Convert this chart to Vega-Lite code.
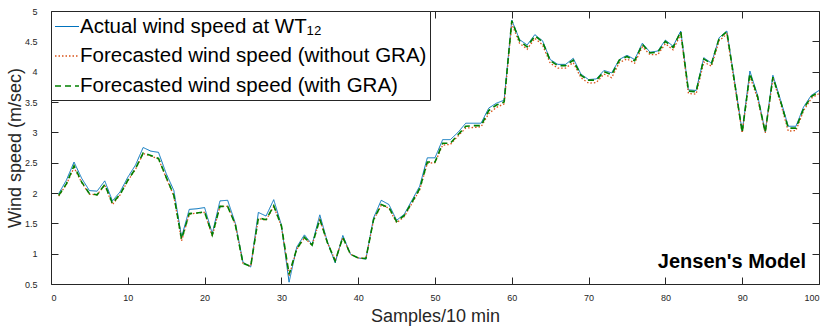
{
  "$schema": "https://vega.github.io/schema/vega-lite/v6.json",
  "width": 768,
  "height": 273,
  "autosize": {"type": "none"},
  "padding": {"left": 51, "top": 11, "right": 9, "bottom": 46},
  "background": "white",
  "config": {
    "font": "Liberation Sans",
    "view": {"stroke": "#262626", "strokeWidth": 1},
    "axis": {
      "grid": false,
      "domain": false,
      "labelColor": "#262626",
      "titleColor": "#262626",
      "labelFontSize": 9,
      "titleFontSize": 18,
      "titleFontWeight": "normal"
    },
    "legend": {
      "orient": "top-left",
      "offset": 0,
      "padding": 3,
      "strokeColor": "#262626",
      "fillColor": "white",
      "labelFontSize": 20.5,
      "labelColor": "black",
      "labelLimit": 500,
      "labelOffset": 0,
      "symbolType": "stroke",
      "symbolSize": 576,
      "rowPadding": 6,
      "title": null
    }
  },
  "datasets": {
    "wind": [
      {"s":1,"a":1.99,"wo":1.95,"w":1.96},
      {"s":2,"a":2.21,"wo":2.14,"w":2.15},
      {"s":3,"a":2.51,"wo":2.42,"w":2.45},
      {"s":4,"a":2.24,"wo":2.17,"w":2.18},
      {"s":5,"a":2.04,"wo":1.98,"w":1.99},
      {"s":6,"a":2.03,"wo":1.97,"w":1.97},
      {"s":7,"a":2.20,"wo":2.13,"w":2.14},
      {"s":8,"a":1.87,"wo":1.81,"w":1.83},
      {"s":9,"a":2.02,"wo":1.97,"w":1.98},
      {"s":10,"a":2.26,"wo":2.20,"w":2.21},
      {"s":11,"a":2.46,"wo":2.39,"w":2.40},
      {"s":12,"a":2.75,"wo":2.65,"w":2.66},
      {"s":13,"a":2.69,"wo":2.61,"w":2.62},
      {"s":14,"a":2.67,"wo":2.56,"w":2.57},
      {"s":15,"a":2.32,"wo":2.25,"w":2.26},
      {"s":16,"a":2.04,"wo":1.95,"w":1.96},
      {"s":17,"a":1.27,"wo":1.21,"w":1.24},
      {"s":18,"a":1.73,"wo":1.65,"w":1.66},
      {"s":19,"a":1.74,"wo":1.67,"w":1.67},
      {"s":20,"a":1.76,"wo":1.68,"w":1.69},
      {"s":21,"a":1.33,"wo":1.29,"w":1.31},
      {"s":22,"a":1.87,"wo":1.78,"w":1.78},
      {"s":23,"a":1.88,"wo":1.78,"w":1.78},
      {"s":24,"a":1.50,"wo":1.48,"w":1.48},
      {"s":25,"a":0.86,"wo":0.84,"w":0.84},
      {"s":26,"a":0.78,"wo":0.79,"w":0.79},
      {"s":27,"a":1.68,"wo":1.58,"w":1.59},
      {"s":28,"a":1.62,"wo":1.55,"w":1.56},
      {"s":29,"a":1.89,"wo":1.78,"w":1.79},
      {"s":30,"a":1.47,"wo":1.45,"w":1.46},
      {"s":31,"a":0.53,"wo":0.63,"w":0.66},
      {"s":32,"a":1.11,"wo":1.07,"w":1.08},
      {"s":33,"a":1.31,"wo":1.26,"w":1.27},
      {"s":34,"a":1.15,"wo":1.14,"w":1.14},
      {"s":35,"a":1.64,"wo":1.56,"w":1.57},
      {"s":36,"a":1.19,"wo":1.18,"w":1.18},
      {"s":37,"a":0.85,"wo":0.89,"w":0.88},
      {"s":38,"a":1.30,"wo":1.26,"w":1.27},
      {"s":39,"a":0.99,"wo":0.99,"w":0.99},
      {"s":40,"a":0.93,"wo":0.93,"w":0.93},
      {"s":41,"a":0.91,"wo":0.92,"w":0.92},
      {"s":42,"a":1.59,"wo":1.55,"w":1.56},
      {"s":43,"a":1.88,"wo":1.80,"w":1.81},
      {"s":44,"a":1.81,"wo":1.75,"w":1.76},
      {"s":45,"a":1.55,"wo":1.51,"w":1.53},
      {"s":46,"a":1.65,"wo":1.61,"w":1.63},
      {"s":47,"a":1.88,"wo":1.83,"w":1.85},
      {"s":48,"a":2.11,"wo":2.05,"w":2.07},
      {"s":49,"a":2.58,"wo":2.49,"w":2.51},
      {"s":50,"a":2.58,"wo":2.50,"w":2.51},
      {"s":51,"a":2.88,"wo":2.79,"w":2.82},
      {"s":52,"a":2.88,"wo":2.80,"w":2.82},
      {"s":53,"a":3.00,"wo":2.94,"w":2.96},
      {"s":54,"a":3.15,"wo":3.07,"w":3.10},
      {"s":55,"a":3.15,"wo":3.08,"w":3.11},
      {"s":56,"a":3.15,"wo":3.09,"w":3.11},
      {"s":57,"a":3.40,"wo":3.31,"w":3.36},
      {"s":58,"a":3.48,"wo":3.41,"w":3.45},
      {"s":59,"a":3.53,"wo":3.47,"w":3.50},
      {"s":60,"a":4.85,"wo":4.79,"w":4.84},
      {"s":61,"a":4.53,"wo":4.47,"w":4.51},
      {"s":62,"a":4.44,"wo":4.37,"w":4.41},
      {"s":63,"a":4.61,"wo":4.55,"w":4.59},
      {"s":64,"a":4.51,"wo":4.44,"w":4.49},
      {"s":65,"a":4.20,"wo":4.14,"w":4.18},
      {"s":66,"a":4.12,"wo":4.06,"w":4.10},
      {"s":67,"a":4.12,"wo":4.06,"w":4.10},
      {"s":68,"a":4.22,"wo":4.15,"w":4.19},
      {"s":69,"a":3.96,"wo":3.90,"w":3.94},
      {"s":70,"a":3.87,"wo":3.81,"w":3.86},
      {"s":71,"a":3.88,"wo":3.82,"w":3.86},
      {"s":72,"a":4.02,"wo":3.96,"w":4.00},
      {"s":73,"a":3.98,"wo":3.90,"w":3.95},
      {"s":74,"a":4.20,"wo":4.15,"w":4.19},
      {"s":75,"a":4.27,"wo":4.21,"w":4.25},
      {"s":76,"a":4.20,"wo":4.14,"w":4.18},
      {"s":77,"a":4.47,"wo":4.41,"w":4.45},
      {"s":78,"a":4.32,"wo":4.28,"w":4.31},
      {"s":79,"a":4.34,"wo":4.28,"w":4.32},
      {"s":80,"a":4.52,"wo":4.46,"w":4.50},
      {"s":81,"a":4.42,"wo":4.36,"w":4.40},
      {"s":82,"a":4.67,"wo":4.62,"w":4.66},
      {"s":83,"a":3.70,"wo":3.64,"w":3.68},
      {"s":84,"a":3.69,"wo":3.63,"w":3.67},
      {"s":85,"a":4.23,"wo":4.16,"w":4.21},
      {"s":86,"a":4.14,"wo":4.09,"w":4.13},
      {"s":87,"a":4.56,"wo":4.51,"w":4.55},
      {"s":88,"a":4.67,"wo":4.62,"w":4.66},
      {"s":89,"a":3.85,"wo":3.80,"w":3.83},
      {"s":90,"a":3.01,"wo":2.99,"w":3.00},
      {"s":91,"a":4.01,"wo":3.93,"w":3.97},
      {"s":92,"a":3.61,"wo":3.56,"w":3.59},
      {"s":93,"a":3.01,"wo":2.99,"w":3.00},
      {"s":94,"a":3.94,"wo":3.89,"w":3.91},
      {"s":95,"a":3.53,"wo":3.48,"w":3.51},
      {"s":96,"a":3.10,"wo":3.02,"w":3.07},
      {"s":97,"a":3.10,"wo":3.03,"w":3.07},
      {"s":98,"a":3.42,"wo":3.36,"w":3.39},
      {"s":99,"a":3.61,"wo":3.56,"w":3.59},
      {"s":100,"a":3.69,"wo":3.64,"w":3.67}
    ],
    "note": [{"x": 98.3, "y": 0.86, "label": "Jensen's Model"}]
  },
  "layer": [
    {
      "data": {"name": "wind"},
      "transform": [{"fold": ["a", "wo", "w"], "as": ["series", "speed"]}],
      "mark": {"type": "line", "clip": true},
      "encoding": {
        "x": {
          "field": "s", "type": "quantitative",
          "scale": {"domain": [0, 100], "nice": false},
          "axis": {"orient": "bottom", "values": [0,10,20,30,40,50,60,70,80,90,100], "ticks": true, "tickSize": 7, "offset": -7, "tickColor": "#262626", "tickWidth": 1, "labelPadding": 9, "title": "Samples/10 min", "titlePadding": 5}
        },
        "y": {
          "field": "speed", "type": "quantitative",
          "scale": {"domain": [0.5, 5], "nice": false, "zero": false},
          "axis": {"orient": "left", "values": [0.5,1,1.5,2,2.5,3,3.5,4,4.5,5], "ticks": true, "tickSize": 7, "offset": -7, "tickColor": "#262626", "tickWidth": 1, "format": "~g", "labelPadding": 14, "title": "Wind speed (m/sec)", "titlePadding": 0}
        },
        "color": {
          "field": "series", "type": "nominal",
          "scale": {"domain": ["a", "wo", "w"], "range": ["#0072BD", "#D95319", "#008000"]},
          "legend": {"labelExpr": "datum.label == 'a' ? 'Actual wind speed at WT\u2081\u2082' : datum.label == 'wo' ? 'Forecasted wind speed (without GRA)' : 'Forecasted wind speed (with GRA)'"}
        },
        "strokeDash": {
          "field": "series", "type": "nominal",
          "scale": {"domain": ["a", "wo", "w"], "range": [[1, 0], [1.5, 2], [6, 4]]},
          "legend": {"labelExpr": "datum.label == 'a' ? 'Actual wind speed at WT\u2081\u2082' : datum.label == 'wo' ? 'Forecasted wind speed (without GRA)' : 'Forecasted wind speed (with GRA)'"}
        },
        "strokeWidth": {
          "field": "series", "type": "nominal",
          "scale": {"domain": ["a", "wo", "w"], "range": [1, 1.6, 2]},
          "legend": {"labelExpr": "datum.label == 'a' ? 'Actual wind speed at WT\u2081\u2082' : datum.label == 'wo' ? 'Forecasted wind speed (without GRA)' : 'Forecasted wind speed (with GRA)'"}
        },
        "order": {"field": "series", "sort": "ascending"}
      }
    },
    {
      "data": {"name": "note"},
      "mark": {"type": "text", "align": "right", "baseline": "middle", "fontWeight": "bold", "fontSize": 20, "color": "black"},
      "encoding": {
        "x": {"field": "x", "type": "quantitative", "axis": {"orient": "top", "values": [0,10,20,30,40,50,60,70,80,90,100], "ticks": true, "tickSize": 7, "offset": -7, "tickColor": "#262626", "tickWidth": 1, "labels": false, "title": null}},
        "y": {"field": "y", "type": "quantitative", "axis": {"orient": "right", "values": [0.5,1,1.5,2,2.5,3,3.5,4,4.5,5], "ticks": true, "tickSize": 7, "offset": -7, "tickColor": "#262626", "tickWidth": 1, "labels": false, "title": null}},
        "text": {"field": "label"}
      }
    }
  ],
  "resolve": {"axis": {"x": "independent", "y": "independent"}}
}
